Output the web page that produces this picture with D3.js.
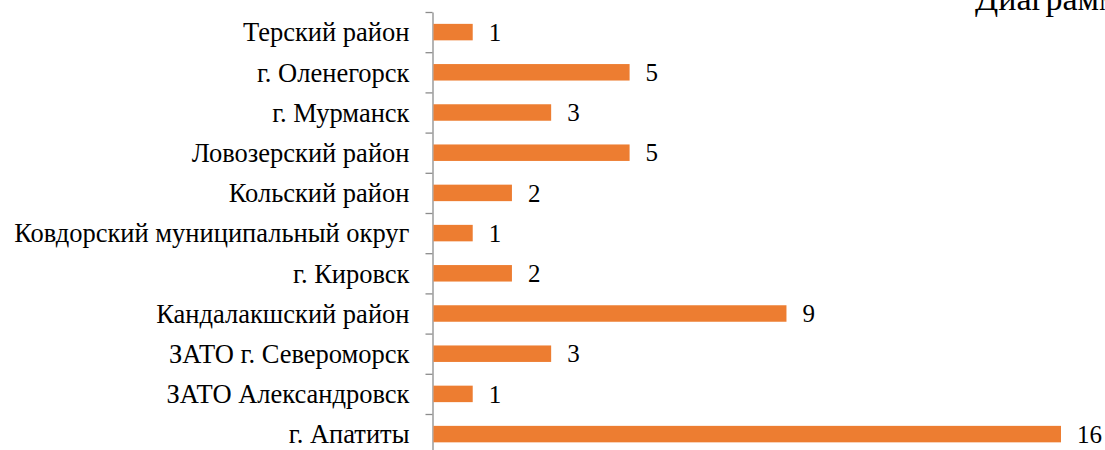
<!DOCTYPE html>
<html>
<head>
<meta charset="utf-8">
<script src="https://cdn.jsdelivr.net/npm/d3@7"></script>
<style>
  body { margin: 0; background: #fff; overflow: hidden; }
</style>
</head>
<body>
<div id="chart"></div>
<script>
// categories, top to bottom as in the picture
var categories = ["Терский район", "г. Оленегорск", "г. Мурманск", "Ловозерский район",
  "Кольский район", "Ковдорский муниципальный округ", "г. Кировск", "Кандалакшский район",
  "ЗАТО г. Североморск", "ЗАТО Александровск", "г. Апатиты"];
var values = [1, 5, 3, 5, 2, 1, 2, 9, 3, 1, 16];
var title = "Диаграмма";

var W = 1105, H = 450;
var margin = {top: 12, left: 432.5};
var step = 40.2;
var serif = "'Liberation Serif', 'Times New Roman', Tinos, 'DejaVu Serif', serif";

var svg = d3.select("#chart")
  .append("svg")
    .attr("width", W)
    .attr("height", H)
    .style("font-family", serif);

// title (cut off by the right edge, as in the source)
svg.append("text")
  .attr("x", 975)
  .attr("y", 10)
  .attr("font-size", 34)
  .attr("fill", "#000")
  .text(title);

var g = svg.append("g")
  .attr("transform", "translate(" + margin.left + "," + margin.top + ")");

var innerH = step * categories.length;

var x = d3.scaleLinear()
  .domain([0, 16])
  .range([0, 627.5]);

var y = d3.scaleBand()
  .domain(categories)
  .range([0, innerH])
  .paddingInner(0.59)
  .paddingOuter(0.295);

// category axis with ticks between the categories
var yEdges = d3.scaleLinear()
  .domain([0, categories.length])
  .range([0, innerH]);
var axis = g.append("g")
  .call(d3.axisLeft(yEdges).tickValues(d3.range(categories.length + 1))
    .tickSize(7).tickSizeOuter(0).tickFormat(""));
axis.select(".domain").attr("stroke", "#8c8c8c").attr("stroke-width", 1.3);
axis.selectAll(".tick line").attr("stroke", "#8c8c8c").attr("stroke-width", 1.3);

// category labels
g.selectAll(".cat")
  .data(categories)
  .enter().append("text")
    .attr("class", "cat")
    .attr("x", -23)
    .attr("y", function(d) { return y(d) + y.bandwidth() / 2; })
    .attr("dy", "0.35em")
    .attr("text-anchor", "end")
    .attr("font-size", 26.5)
    .attr("fill", "#000")
    .text(function(d) { return d; });

// bars
g.selectAll(".bar")
  .data(values)
  .enter().append("rect")
    .attr("class", "bar")
    .attr("x", x(0) + 1)
    .attr("y", function(d, i) { return y(categories[i]); })
    .attr("width", function(d) { return x(d) - x(0); })
    .attr("height", y.bandwidth())
    .attr("fill", "#ed7d31");

// value labels
g.selectAll(".val")
  .data(values)
  .enter().append("text")
    .attr("class", "val")
    .attr("x", function(d) { return x(d) + 17; })
    .attr("y", function(d, i) { return y(categories[i]) + y.bandwidth() / 2; })
    .attr("dy", "0.35em")
    .attr("font-size", 25)
    .attr("fill", "#000")
    .text(function(d) { return d; });
</script>
</body>
</html>
